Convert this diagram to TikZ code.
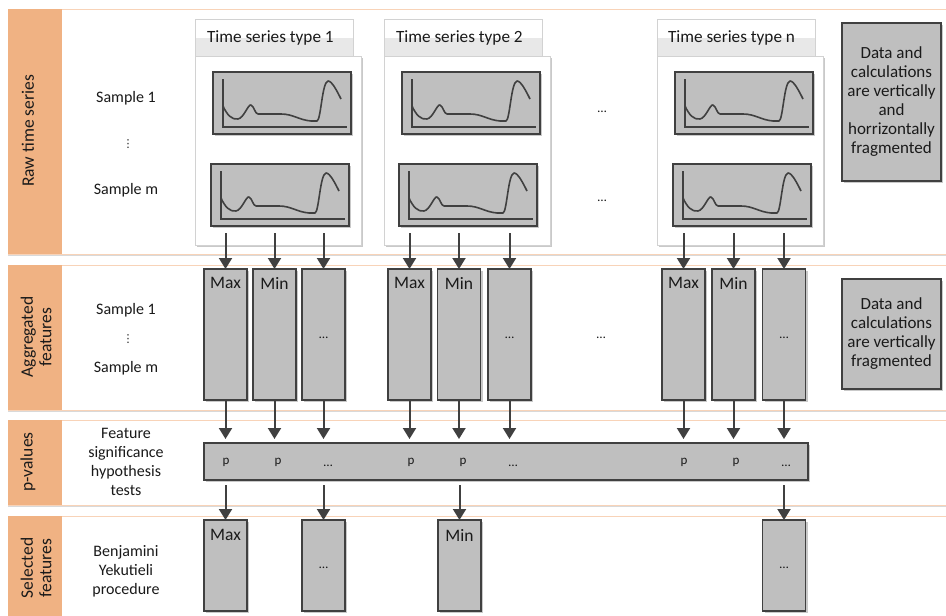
\documentclass[tikz,border=0pt]{standalone}
\usepackage{fontspec}
\setmainfont{Carlito}
\newfontfamily\symbolfont{DejaVu Sans}
\usetikzlibrary{arrows.meta,shadows}
\definecolor{bandorange}{HTML}{F0B283}
\definecolor{bandline}{HTML}{F8D3B8}
\definecolor{boxgray}{HTML}{BFBFBF}
\definecolor{edgegray}{HTML}{404040}
\definecolor{inkgray}{HTML}{1A1A1A}
\definecolor{framegray}{HTML}{D2D2D2}
\definecolor{headgray}{HTML}{E8E8E8}

\tikzset{
  softshadow/.style={drop shadow={shadow xshift=2pt,shadow yshift=-2pt,opacity=0.35,fill=black!60}},
  bandbox/.style={draw=bandline, line width=0.9pt, fill=white, anchor=north west,
    minimum width=960pt, drop shadow={shadow xshift=0pt,shadow yshift=-1.5pt,opacity=0.15,fill=black}},
  bandstrip/.style={fill=bandorange, anchor=north west, minimum width=54pt},
  bandtitle/.style={rotate=90, align=center, font=\fontsize{17.5}{18.5}\selectfont},
  sidetext/.style={align=center, font=\fontsize{16}{19}\selectfont},
  vdotsmark/.style={font=\symbolfont\fontsize{11}{12}\selectfont},
  dotsmall/.style={font=\fontsize{13}{14}\selectfont},
  typehead/.style={draw=framegray, line width=0.9pt, fill=white, anchor=north west,
    minimum width=158pt, minimum height=37pt,
    path picture={\fill[headgray] (path picture bounding box.west) rectangle (path picture bounding box.south east);}},
  typebody/.style={draw=framegray, line width=0.9pt, fill=white, anchor=north west,
    minimum width=166pt, minimum height=189pt, softshadow},
  typetext/.style={anchor=west, font=\fontsize{17.2}{18}\selectfont},
  chartbox/.style={draw=edgegray, line width=1.5pt, fill=boxgray, anchor=north west,
    minimum width=138pt, minimum height=62pt, softshadow},
  axisline/.style={draw=edgegray, line width=1.3pt},
  curveline/.style={draw=edgegray, line width=1.6pt, line join=round},
  featbox/.style={draw=edgegray, line width=1.5pt, fill=boxgray, anchor=north west,
    minimum width=43pt, minimum height=131pt, softshadow},
  selbox/.style={draw=edgegray, line width=1.5pt, fill=boxgray, anchor=north west,
    minimum width=43pt, minimum height=91pt, softshadow},
  barbox/.style={draw=edgegray, line width=1.5pt, fill=boxgray, anchor=north west,
    minimum width=604pt, minimum height=37pt, softshadow},
  notebox/.style={draw=edgegray, line width=1.5pt, fill=boxgray, anchor=north west,
    minimum width=99pt, align=center, font=\fontsize{17}{19}\selectfont, softshadow},
  boxlabel/.style={font=\fontsize{17.5}{18}\selectfont},
  plabel/.style={font=\fontsize{13}{14}\selectfont},
  flow/.style={draw=edgegray, line width=2pt, -{Triangle[length=11pt,width=13pt]}},
}

% one sample plot: frame, axes and the curve
\newcommand\tschart[3]{%
  \node[chartbox] (#1) at (#2,#3) {};
  \begin{scope}[shift={(#2,#3)}]
    \draw[axisline] (10,7) -- (10,55) -- (134,55);
    \draw[curveline] (10,34) .. controls (14,43) and (19,48) .. (25,47)
      .. controls (31,46) and (35,32) .. (38,33)
      .. controls (41,34) and (42,42) .. (45,42) -- (68,42)
      .. controls (80,42) and (86,48) .. (98,49) -- (104,49)
      .. controls (108,48) and (109,10) .. (115,9)
      .. controls (119,9) and (124,19) .. (128,27);
  \end{scope}}

\begin{document}
\begin{tikzpicture}[x=1pt,y=-1pt,
  every node/.style={text=inkgray, inner sep=0pt, outer sep=0pt}]
\useasboundingbox (0,0) rectangle (946,616);
\clip (0,0) rectangle (946,616);

% ---------- horizontal bands ----------
\node[bandbox, minimum height=245pt] (band1) at (8,9) {};
\node[bandstrip, minimum height=245pt] (strip1) at (8,9) {};
\node[bandbox, minimum height=145pt] (band2) at (8,265) {};
\node[bandstrip, minimum height=145pt] (strip2) at (8,265) {};
\node[bandbox, minimum height=85pt] (band3) at (8,420) {};
\node[bandstrip, minimum height=85pt] (strip3) at (8,420) {};
\node[bandbox, minimum height=120pt] (band4) at (8,516) {};
\node[bandstrip, minimum height=120pt] (strip4) at (8,516) {};

\node[bandtitle] (bt1) at (28,131) {Raw time series};
\node[bandtitle] (bt2) at (36,337) {Aggregated\\features};
\node[bandtitle] (bt3) at (28,462) {p-values};
\node[bandtitle] (bt4) at (36,568) {Selected\\features};

% ---------- row labels ----------
\node[sidetext] (r1a) at (126,98) {Sample 1};
\node[vdotsmark] (r1b) at (128,144) {⋮};
\node[sidetext] (r1c) at (126,190) {Sample m};
\node[sidetext] (r2a) at (126,310) {Sample 1};
\node[vdotsmark] (r2b) at (128,339) {⋮};
\node[sidetext] (r2c) at (126,368) {Sample m};
\node[sidetext] (r3) at (126,462) {Feature\\significance\\hypothesis\\tests};
\node[sidetext] (r4) at (126,571) {Benjamini\\Yekutieli\\procedure};

% ---------- raw time series groups ----------
\node[typehead] (h1) at (195,19) {};
\node[typebody] (t1) at (195,56) {};
\node[typetext] (ht1) at (207,38) {Time series type 1};
\tschart{c11}{213}{72}
\tschart{c12}{211}{164}

\node[typehead] (h2) at (384,19) {};
\node[typebody] (t2) at (384,56) {};
\node[typetext] (ht2) at (396,38) {Time series type 2};
\tschart{c21}{402}{72}
\tschart{c22}{399}{164}

\node[typehead] (hn) at (657,19) {};
\node[typebody] (tn) at (657,56) {};
\node[typetext] (htn) at (668,38) {Time series type n};
\tschart{cn1}{675}{72}
\tschart{cn2}{673}{164}

\node[dotsmall] (gap1) at (602,112) {…};
\node[dotsmall] (gap2) at (602,201) {…};

\node[notebox, minimum height=158pt] (note1) at (842,23) {Data and\\calculations\\are vertically\\and\\horrizontally\\fragmented};

% ---------- aggregated features ----------
\node[featbox] (f11) at (204,269) {};
\node[featbox] (f12) at (253,269) {};
\node[featbox] (f13) at (302,269) {};
\node[featbox] (f21) at (388,269) {};
\node[featbox] (f22) at (437.5,269) {};
\node[featbox] (f23) at (488,269) {};
\node[featbox] (fn1) at (662,269) {};
\node[featbox] (fn2) at (712,269) {};
\node[featbox] (fn3) at (762.5,269) {};

\node[boxlabel] (lf11) at ([yshift=-14pt]f11.north) {Max};
\node[boxlabel] (lf12) at ([yshift=-14pt]f12.north) {Min};
\node[dotsmall] (lf13) at ([yshift=-69pt]f13.north) {…};
\node[boxlabel] (lf21) at ([yshift=-14pt]f21.north) {Max};
\node[boxlabel] (lf22) at ([yshift=-14pt]f22.north) {Min};
\node[dotsmall] (lf23) at ([yshift=-69pt]f23.north) {…};
\node[boxlabel] (lfn1) at ([yshift=-14pt]fn1.north) {Max};
\node[boxlabel] (lfn2) at ([yshift=-14pt]fn2.north) {Min};
\node[dotsmall] (lfn3) at ([yshift=-69pt]fn3.north) {…};

\node[dotsmall] (gap3) at (601,338) {…};

\node[notebox, minimum height=110pt] (note2) at (842,279) {Data and\\calculations\\are vertically\\fragmented};

% ---------- p-values ----------
\node[barbox] (pbar) at (204,443) {};
\node[plabel] (p11) at (226,462) {p};
\node[plabel] (p12) at (278,462) {p};
\node[dotsmall] (p13) at (328,466) {…};
\node[plabel] (p21) at (411,462) {p};
\node[plabel] (p22) at (463,462) {p};
\node[dotsmall] (p23) at (513,466) {…};
\node[plabel] (pn1) at (684,462) {p};
\node[plabel] (pn2) at (736,462) {p};
\node[dotsmall] (pn3) at (786,466) {…};

% ---------- selected features ----------
\node[selbox] (s1) at (204,520) {};
\node[selbox] (s2) at (302,520) {};
\node[selbox] (s3) at (438,520) {};
\node[selbox] (s4) at (762.5,520) {};
\node[boxlabel] (ls1) at ([yshift=-15pt]s1.north) {Max};
\node[dotsmall] (ls2) at ([yshift=-48pt]s2.north) {…};
\node[boxlabel] (ls3) at ([yshift=-15pt]s3.north) {Min};
\node[dotsmall] (ls4) at ([yshift=-48pt]s4.north) {…};

% ---------- connectors ----------
\coordinate (tap) at (0,233);
\coordinate (sap) at (0,485);
\foreach \f in {f11,f12,f13,f21,f22,f23,fn1,fn2,fn3}{
  \draw[flow] (\f.north |- tap) -- (\f.north);
  \draw[flow, shorten >=4pt] (\f.south) -- (\f.south |- pbar.north);
}
\foreach \s/\f in {s1/f11,s2/f13,s3/f22,s4/fn3}{
  \draw[flow] (\s.north |- sap) -- (\s.north);
}
\end{tikzpicture}
\end{document}
